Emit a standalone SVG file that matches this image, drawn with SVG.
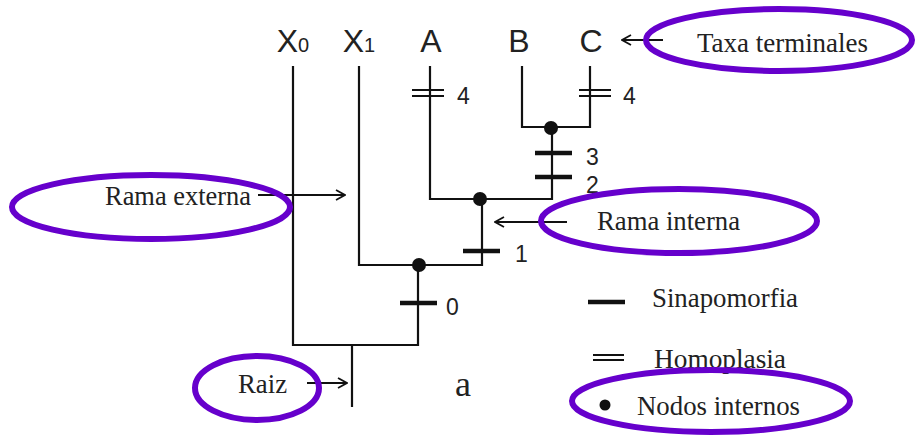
<svg xmlns="http://www.w3.org/2000/svg" width="915" height="436" viewBox="0 0 915 436">
<style>
.tree{fill:none;stroke:#111;stroke-width:2.2}
.syn{stroke:#111;stroke-width:4.5}
.hom{stroke:#111;stroke-width:2}
.arr{fill:none;stroke:#111;stroke-width:1.8}
.taxon{font-family:"Liberation Sans",Arial,sans-serif;font-size:32px;fill:#222;text-anchor:middle}
.num{font-family:"Liberation Sans",Arial,sans-serif;font-size:23px;fill:#222}
.lbl{font-family:"Liberation Serif","Times New Roman",serif;font-size:28px;fill:#222}
.big{font-family:"Liberation Serif","Times New Roman",serif;font-size:36px;fill:#222}
.oval{fill:none;stroke:#6600cc;stroke-width:6}
.dot{fill:#111}
</style>
<defs>
<marker id="ah" viewBox="0 0 12 12" refX="11" refY="6" markerWidth="12" markerHeight="12" markerUnits="userSpaceOnUse" orient="auto">
<polyline points="2,1 11,6 2,11" fill="none" stroke="#111" stroke-width="1.8"/>
</marker>
</defs>
<rect width="915" height="436" fill="#fff"/>

<g id="connectors">
<path class="tree" d="M293,66 V345 H418 V265"/>
<path class="tree" d="M359,66 V265 H482 V199"/>
<path class="tree" d="M430,66 V199 H552 V127"/>
<path class="tree" d="M522,66 V127 H590 V66"/>
<path class="tree" d="M352,345 V407"/>
<path class="arr" d="M258,195 H345" marker-end="url(#ah)"/>
<path class="arr" d="M663,40 H622" marker-end="url(#ah)"/>
<path class="arr" d="M567,222 H495" marker-end="url(#ah)"/>
<path class="arr" d="M307,383 H347" marker-end="url(#ah)"/>
</g>

<g id="taxon-X0"><text class="taxon" x="293" y="52">X<tspan style="font-size:20px">0</tspan></text></g>
<g id="taxon-X1"><text class="taxon" x="359" y="52">X<tspan style="font-size:20px">1</tspan></text></g>
<g id="taxon-A"><text class="taxon" x="431" y="52">A</text></g>
<g id="taxon-B"><text class="taxon" x="519" y="52">B</text></g>
<g id="taxon-C"><text class="taxon" x="591" y="52">C</text></g>

<g id="char-A4">
<line class="hom" x1="412" y1="90" x2="444" y2="90"/>
<line class="hom" x1="412" y1="96" x2="444" y2="96"/>
<text class="num" x="457" y="104">4</text>
</g>
<g id="char-C4">
<line class="hom" x1="579" y1="90" x2="611" y2="90"/>
<line class="hom" x1="579" y1="96" x2="611" y2="96"/>
<text class="num" x="623" y="104">4</text>
</g>
<g id="char-3">
<line class="syn" x1="535" y1="153" x2="572" y2="153"/>
<text class="num" x="586" y="165">3</text>
</g>
<g id="char-2">
<line class="syn" x1="535" y1="177" x2="572" y2="177"/>
<text class="num" x="586" y="193">2</text>
</g>
<g id="char-1">
<line class="syn" x1="463" y1="251" x2="500" y2="251"/>
<text class="num" x="515" y="262">1</text>
</g>
<g id="char-0">
<line class="syn" x1="400" y1="303" x2="437" y2="303"/>
<text class="num" x="446" y="315">0</text>
</g>

<g id="node-BC"><circle class="dot" cx="551" cy="128" r="7"/></g>
<g id="node-ABC"><circle class="dot" cx="480" cy="199" r="7"/></g>
<g id="node-X1ABC"><circle class="dot" cx="419" cy="265" r="7"/></g>

<g id="label-taxa">
<ellipse class="oval" cx="779" cy="40" rx="133" ry="31"/>
<text class="lbl" x="697" y="52" textLength="171" lengthAdjust="spacingAndGlyphs">Taxa terminales</text>
</g>
<g id="label-rama-externa">
<ellipse class="oval" cx="151" cy="207" rx="139" ry="32"/>
<text class="lbl" x="105" y="205" textLength="146" lengthAdjust="spacingAndGlyphs">Rama externa</text>
</g>
<g id="label-rama-interna">
<ellipse class="oval" cx="679" cy="221" rx="138" ry="32"/>
<text class="lbl" x="597" y="230" textLength="143" lengthAdjust="spacingAndGlyphs">Rama interna</text>
</g>
<g id="label-raiz">
<ellipse class="oval" cx="257" cy="388" rx="62" ry="32"/>
<text class="lbl" x="238" y="393" textLength="49" lengthAdjust="spacingAndGlyphs">Raiz</text>
</g>
<g id="label-a"><text class="big" x="455" y="396">a</text></g>

<g id="legend-sinapomorfia">
<line class="syn" x1="588" y1="302" x2="625" y2="302"/>
<text class="lbl" x="652" y="307" textLength="146" lengthAdjust="spacingAndGlyphs">Sinapomorfia</text>
</g>
<g id="legend-homoplasia">
<line class="hom" x1="593" y1="355" x2="624" y2="355"/>
<line class="hom" x1="593" y1="360" x2="624" y2="360"/>
<text class="lbl" x="654" y="368" textLength="132" lengthAdjust="spacingAndGlyphs">Homoplasia</text>
</g>
<g id="legend-nodos">
<ellipse class="oval" cx="711" cy="401" rx="139" ry="31"/>
<circle class="dot" cx="605" cy="405" r="5.5"/>
<text class="lbl" x="637" y="415" textLength="163" lengthAdjust="spacingAndGlyphs">Nodos internos</text>
</g>
</svg>
